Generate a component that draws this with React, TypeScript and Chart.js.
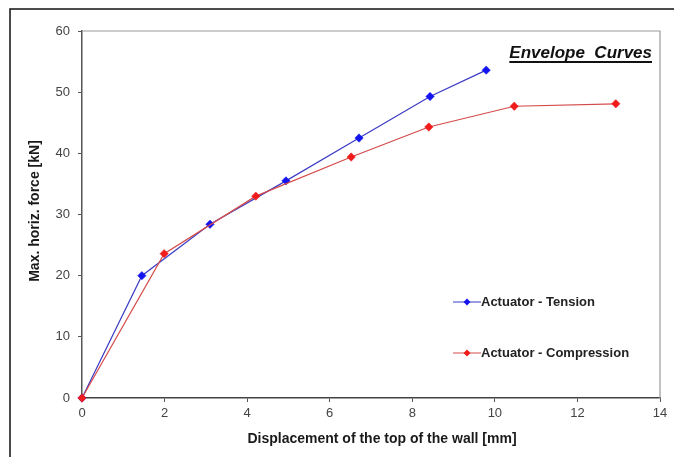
import React, { useEffect, useRef } from "react";
import { Chart, registerables } from "chart.js";

Chart.register(...registerables);

const tensionX = [0, 1.45, 3.1, 4.94, 6.71, 8.43, 9.79];
const tensionY = [0, 20.0, 28.4, 35.5, 42.5, 49.3, 53.6];
const compressionX = [0, 1.99, 4.21, 6.52, 8.4, 10.47, 12.93];
const compressionY = [0, 23.6, 33.0, 39.4, 44.3, 47.7, 48.1];

const seriesNames = ["Actuator - Tension", "Actuator - Compression"];
const chartTitle = "Envelope  Curves";
const xTitle = "Displacement of the top of the wall [mm]";
const yTitle = "Max. horiz. force [kN]";

const xMin = 0, xMax = 14, xStep = 2;
const yMin = 0, yMax = 60, yStep = 10;

const BLUE_LINE = "#3b3bc4";
const BLUE_PT = "#1414f0";
const RED_LINE = "#d44a4a";
const RED_PT = "#f01c1c";
const FONT = "'Liberation Sans', Arial, sans-serif";

const decorPlugin = {
  id: "decor",
  afterDraw(chart: any) {
    const ctx = chart.ctx as CanvasRenderingContext2D;
    const ca = chart.chartArea;
    ctx.save();
    // outer frame (left and top visible)
    ctx.strokeStyle = "#111";
    ctx.lineWidth = 1.5;
    ctx.beginPath();
    ctx.moveTo(10, 460);
    ctx.lineTo(10, 9);
    ctx.lineTo(680, 9);
    ctx.stroke();

    // plot area top/right border
    ctx.strokeStyle = "#9a9a9a";
    ctx.lineWidth = 1.2;
    ctx.beginPath();
    ctx.moveTo(ca.left, ca.top);
    ctx.lineTo(ca.right, ca.top);
    ctx.lineTo(ca.right, ca.bottom);
    ctx.stroke();

    // title
    ctx.fillStyle = "#111";
    ctx.font = `italic bold 17px ${FONT}`;
    ctx.textAlign = "right";
    ctx.textBaseline = "alphabetic";
    const tRight = 652;
    const tBase = 58;
    ctx.fillText(chartTitle, tRight, tBase);
    const tw = ctx.measureText(chartTitle).width;
    ctx.fillRect(tRight - tw, tBase + 3, tw, 2);

    // axis titles
    ctx.font = `bold 14px ${FONT}`;
    ctx.textAlign = "center";
    ctx.textBaseline = "middle";
    ctx.fillStyle = "#1a1a1a";
    ctx.fillText(xTitle, 382, 439);
    ctx.save();
    ctx.translate(35, 211);
    ctx.rotate(-Math.PI / 2);
    ctx.fillText(yTitle, 0, 0);
    ctx.restore();

    // legend
    const items = [
      { name: seriesNames[0], line: BLUE_LINE, pt: BLUE_PT, y: 302 },
      { name: seriesNames[1], line: RED_LINE, pt: RED_PT, y: 353 },
    ];
    ctx.font = `bold 13px ${FONT}`;
    ctx.textAlign = "left";
    ctx.textBaseline = "middle";
    for (const it of items) {
      ctx.strokeStyle = it.line;
      ctx.lineWidth = 1;
      ctx.beginPath();
      ctx.moveTo(453, it.y);
      ctx.lineTo(481, it.y);
      ctx.stroke();
      ctx.fillStyle = it.pt;
      ctx.beginPath();
      ctx.moveTo(467, it.y - 3.5);
      ctx.lineTo(470.5, it.y);
      ctx.lineTo(467, it.y + 3.5);
      ctx.lineTo(463.5, it.y);
      ctx.closePath();
      ctx.fill();
      ctx.fillStyle = "#222";
      ctx.fillText(it.name, 481, it.y);
    }
    ctx.restore();
  },
};

export default function App() {
  const ref = useRef<HTMLCanvasElement | null>(null);
  useEffect(() => {
    if (!ref.current) return;
    const tension = tensionX.map((x, i) => ({ x, y: tensionY[i] }));
    const compression = compressionX.map((x, i) => ({ x, y: compressionY[i] }));
    const chart = new Chart(ref.current, {
      type: "scatter",
      data: {
        datasets: [
          {
            label: seriesNames[1],
            data: compression,
            showLine: true,
            clip: false,
            borderColor: RED_LINE,
            borderWidth: 1.2,
            backgroundColor: RED_PT,
            pointBackgroundColor: RED_PT,
            pointBorderColor: RED_PT,
            pointStyle: "rectRot",
            pointRadius: 4.2,
            pointBorderWidth: 0.5,
          },
          {
            label: seriesNames[0],
            data: tension,
            showLine: true,
            clip: false,
            borderColor: BLUE_LINE,
            borderWidth: 1.2,
            backgroundColor: BLUE_PT,
            pointBackgroundColor: BLUE_PT,
            pointBorderColor: BLUE_PT,
            pointStyle: "rectRot",
            pointRadius: 4.2,
            pointBorderWidth: 0.5,
          },
        ],
      },
      options: {
        responsive: false,
        animation: false,
        layout: { padding: { left: 0, top: 31, right: 14, bottom: 0 } },
        plugins: {
          legend: { display: false },
          tooltip: { enabled: false },
          title: { display: false },
        },
        scales: {
          x: {
            type: "linear",
            min: xMin,
            max: xMax,
            afterFit: (s: any) => {
              s.height = 59;
            },
            ticks: {
              stepSize: xStep,
              color: "#444",
              font: { family: FONT, size: 13 },
              padding: 4,
              maxRotation: 0,
            },
            grid: {
              drawOnChartArea: false,
              drawTicks: true,
              tickLength: 4,
              color: "#555",
            },
            border: { color: "#444", width: 1.5 },
          },
          y: {
            type: "linear",
            min: yMin,
            max: yMax,
            afterFit: (s: any) => {
              s.width = 82;
            },
            ticks: {
              stepSize: yStep,
              color: "#444",
              font: { family: FONT, size: 13 },
              padding: 8,
            },
            grid: {
              drawOnChartArea: false,
              drawTicks: true,
              tickLength: 4,
              color: "#555",
            },
            border: { color: "#555", width: 1.5 },
          },
        },
      },
      plugins: [decorPlugin],
    });
    return () => chart.destroy();
  }, []);
  return (
    <canvas
      ref={ref}
      width={674}
      height={457}
      style={{ position: "absolute", left: 0, top: 0, display: "block", background: "#fff" }}
    />
  );
}
